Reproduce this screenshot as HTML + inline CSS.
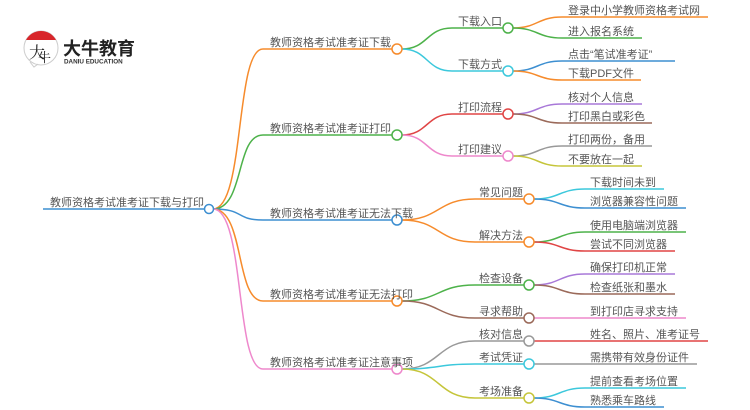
<!DOCTYPE html>
<html><head><meta charset="utf-8"><style>
html,body{margin:0;padding:0;background:#fff;}
svg{display:block;}
text{font-family:"Liberation Sans","Noto Sans CJK SC",sans-serif;fill:#555;font-size:11px;}
</style></head><body>
<svg width="750" height="410" viewBox="0 0 750 410" xmlns="http://www.w3.org/2000/svg">
<g>
<circle cx="41" cy="48" r="17" fill="#fff" stroke="#ccc" stroke-width="1"/>
<path d="M26 40 A17 17 0 0 1 56 40 Z" fill="#d8262b"/>
<path d="M30 62 L34 67 L38 64" fill="none" stroke="#ccc"/>
<text x="29" y="58" style="font-size:16px;fill:#222;font-family:'Noto Serif CJK SC',serif">大</text>
<text x="38" y="62" style="font-size:13px;fill:#222;font-family:'Noto Serif CJK SC',serif">牛</text>
<text x="63" y="55" style="font-size:18px;font-weight:bold;fill:#222">大牛教育</text>
<text x="64" y="63.5" style="font-size:6.3px;fill:#333;font-weight:bold">DANIU EDUCATION</text>
</g>
<g fill="none" stroke-width="1.5">
<path d="M43 209 H205" stroke="#3d8fd1"/>
<path d="M213 209 C245 209 235 49 263 49 H392" stroke="#f68b2c"/>
<path d="M213 209 C245 209 235 135 263 135 H392" stroke="#4db24a"/>
<path d="M213 209 C245 209 235 220 263 220 H392" stroke="#3d8fd1"/>
<path d="M213 209 C245 209 235 301 263 301 H392" stroke="#f68b2c"/>
<path d="M213 209 C245 209 235 369 263 369 H392" stroke="#ee88cc"/>
<path d="M402 49 C428 49 426 28 452 28 H503" stroke="#4db24a"/>
<path d="M402 49 C428 49 426 71 452 71 H503" stroke="#3cc8dc"/>
<path d="M402 135 C428 135 426 114 452 114 H503" stroke="#e04545"/>
<path d="M402 135 C428 135 426 156 452 156 H503" stroke="#ee88cc"/>
<path d="M402 220 C440 220 437 199 475 199 H524" stroke="#f68b2c"/>
<path d="M402 220 C440 220 437 242 475 242 H524" stroke="#f68b2c"/>
<path d="M402 301 C440 301 437 285 475 285 H524" stroke="#4db24a"/>
<path d="M402 301 C440 301 437 318 475 318 H524" stroke="#9b6a5a"/>
<path d="M402 369 C440 369 437 341 475 341 H524" stroke="#999"/>
<path d="M402 369 C440 369 437 364 475 364 H524" stroke="#3cc8dc"/>
<path d="M402 369 C440 369 437 398 475 398 H524" stroke="#c5c53a"/>
<path d="M513 28 C538 28 537 17 562 17 H708" stroke="#f68b2c"/>
<path d="M513 28 C538 28 537 38 562 38 H642" stroke="#4db24a"/>
<path d="M513 71 C538 71 537 61 562 61 H675" stroke="#3d8fd1"/>
<path d="M513 71 C538 71 537 80 562 80 H641" stroke="#f68b2c"/>
<path d="M513 114 C538 114 537 104 562 104 H642" stroke="#a878d8"/>
<path d="M513 114 C538 114 537 123 562 123 H652" stroke="#9b6a5a"/>
<path d="M513 156 C538 156 537 146 562 146 H652" stroke="#999"/>
<path d="M513 156 C538 156 537 166 562 166 H642" stroke="#c5c53a"/>
<path d="M534 199 C560 199 559 189 585 189 H664" stroke="#3cc8dc"/>
<path d="M534 199 C560 199 559 208 585 208 H686" stroke="#3d8fd1"/>
<path d="M534 242 C560 242 559 232 585 232 H686" stroke="#4db24a"/>
<path d="M534 242 C560 242 559 251 585 251 H675" stroke="#e04545"/>
<path d="M534 285 C560 285 559 274 585 274 H675" stroke="#a878d8"/>
<path d="M534 285 C560 285 559 294 585 294 H675" stroke="#9b6a5a"/>
<path d="M534 318 H686" stroke="#ee88cc"/>
<path d="M534 341 H708" stroke="#e04545"/>
<path d="M534 364 H697" stroke="#999"/>
<path d="M534 398 C560 398 559 388 585 388 H686" stroke="#3cc8dc"/>
<path d="M534 398 C560 398 559 407 585 407 H664" stroke="#3d8fd1"/>
</g>
<g fill="#fff" stroke-width="1.5">
<circle cx="209" cy="209" r="4.5" stroke="#3d8fd1"/>
<circle cx="397" cy="49" r="5" stroke="#f68b2c"/>
<circle cx="397" cy="135" r="5" stroke="#4db24a"/>
<circle cx="397" cy="220" r="5" stroke="#3d8fd1"/>
<circle cx="397" cy="301" r="5" stroke="#f68b2c"/>
<circle cx="397" cy="369" r="5" stroke="#ee88cc"/>
<circle cx="508" cy="28" r="5" stroke="#4db24a"/>
<circle cx="508" cy="71" r="5" stroke="#3cc8dc"/>
<circle cx="508" cy="114" r="5" stroke="#e04545"/>
<circle cx="508" cy="156" r="5" stroke="#ee88cc"/>
<circle cx="529" cy="199" r="5" stroke="#f68b2c"/>
<circle cx="529" cy="242" r="5" stroke="#f68b2c"/>
<circle cx="529" cy="285" r="5" stroke="#4db24a"/>
<circle cx="529" cy="318" r="5" stroke="#9b6a5a"/>
<circle cx="529" cy="341" r="5" stroke="#999"/>
<circle cx="529" cy="364" r="5" stroke="#3cc8dc"/>
<circle cx="529" cy="398" r="5" stroke="#c5c53a"/>
</g>
<g>
<text x="50" y="206">教师资格考试准考证下载与打印</text>
<text x="270" y="46">教师资格考试准考证下载</text>
<text x="270" y="132">教师资格考试准考证打印</text>
<text x="270" y="217">教师资格考试准考证无法下载</text>
<text x="270" y="298">教师资格考试准考证无法打印</text>
<text x="270" y="366">教师资格考试准考证注意事项</text>
</g>
<g text-anchor="end">
<text x="502" y="25">下载入口</text>
<text x="502" y="68">下载方式</text>
<text x="502" y="111">打印流程</text>
<text x="502" y="153">打印建议</text>
<text x="523" y="196">常见问题</text>
<text x="523" y="239">解决方法</text>
<text x="523" y="282">检查设备</text>
<text x="523" y="315">寻求帮助</text>
<text x="523" y="338">核对信息</text>
<text x="523" y="361">考试凭证</text>
<text x="523" y="395">考场准备</text>
</g>
<g>
<text x="568" y="14">登录中小学教师资格考试网</text>
<text x="568" y="35">进入报名系统</text>
<text x="568" y="58">点击“笔试准考证”</text>
<text x="568" y="77">下载PDF文件</text>
<text x="568" y="101">核对个人信息</text>
<text x="568" y="120">打印黑白或彩色</text>
<text x="568" y="143">打印两份，备用</text>
<text x="568" y="163">不要放在一起</text>
<text x="590" y="186">下载时间未到</text>
<text x="590" y="205">浏览器兼容性问题</text>
<text x="590" y="229">使用电脑端浏览器</text>
<text x="590" y="248">尝试不同浏览器</text>
<text x="590" y="271">确保打印机正常</text>
<text x="590" y="291">检查纸张和墨水</text>
<text x="590" y="315">到打印店寻求支持</text>
<text x="590" y="338">姓名、照片、准考证号</text>
<text x="590" y="361">需携带有效身份证件</text>
<text x="590" y="385">提前查看考场位置</text>
<text x="590" y="404">熟悉乘车路线</text>
</g>
</svg>
</body></html>
